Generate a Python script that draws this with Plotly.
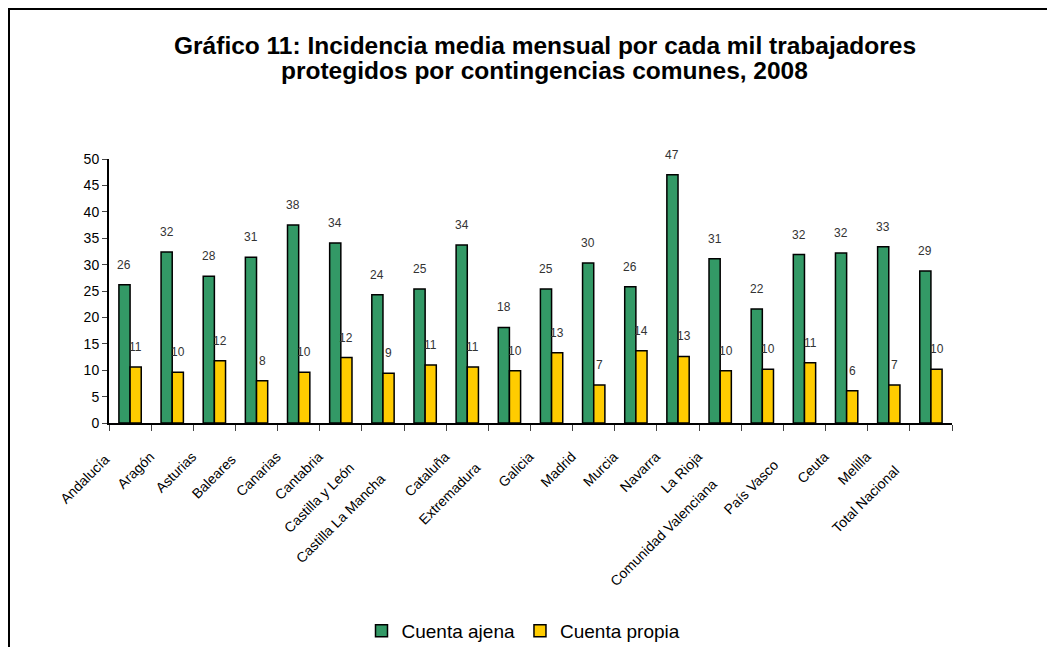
import plotly.graph_objects as go

categories = ["Andalucía", "Aragón", "Asturias", "Baleares", "Canarias", "Cantabria",
              "Castilla y León", "Castilla La Mancha", "Cataluña", "Extremadura", "Galicia",
              "Madrid", "Murcia", "Navarra", "La Rioja", "Comunidad Valenciana", "País Vasco",
              "Ceuta", "Melilla", "Total Nacional"]
cuenta_ajena = [26.2, 32.4, 27.8, 31.4, 37.5, 34.1, 24.3, 25.4, 33.7, 18.1, 25.4,
                30.3, 25.8, 47.0, 31.1, 21.6, 31.9, 32.2, 33.4, 28.8]
cuenta_propia = [10.6, 9.6, 11.8, 8.0, 9.6, 12.4, 9.4, 11.0, 10.6, 9.9, 13.3,
                 7.2, 13.7, 12.6, 9.9, 10.2, 11.4, 6.1, 7.2, 10.2]
series_names = ["Cuenta ajena", "Cuenta propia"]
series_colors = ["#339966", "#FFCC00"]
title_lines = ["Gráfico 11: Incidencia media mensual por cada mil trabajadores",
               "protegidos por contingencias comunes, 2008"]
y_ticks = list(range(0, 51, 5))

# layout-only: extra drop (in spaces) of a few staggered axis labels
label_drop = {"Andalucía": 1, "Baleares": 1, "Castilla y León": 4, "Castilla La Mancha": 8,
              "Extremadura": 4, "Comunidad Valenciana": 10, "País Vasco": 3, "Total Nacional": 5}

W, H = 1055, 647
ML, MR, MT, MB = 101, 111, 151, 232
BARGAP = 0.47
pw = W - ML - MR
ph = H - MT - MB

fig = go.Figure()
for name, vals, col in zip(series_names, [cuenta_ajena, cuenta_propia], series_colors):
    fig.add_trace(go.Bar(
        name=name, x=categories, y=vals,
        marker=dict(color=col, line=dict(color="black", width=1.5)),
    ))

# data labels
cat_w = pw / len(categories)
bar_w = cat_w * (1 - BARGAP) / 2
for i, vals in enumerate([cuenta_ajena, cuenta_propia]):
    shift = (-0.5 + i) * bar_w
    for c, v in zip(categories, vals):
        fig.add_annotation(x=c, y=v, text=f"{v:.0f}", showarrow=False,
                           xshift=shift, yshift=20,
                           font=dict(family="Liberation Sans, Arial", size=12, color="#333333"))

# title (two lines, tight spacing)
for line, fy in zip(title_lines, [37.5, 62.5]):
    fig.add_annotation(xref="paper", yref="paper", x=(536.5 - ML) / pw, y=(H - MB - fy) / ph,
                       text=f"<b>{line}</b>", showarrow=False, xanchor="center", yanchor="middle",
                       font=dict(family="Liberation Sans, Arial", size=24.5, color="black"))

# outer chart border
fig.add_shape(type="rect", xref="paper", yref="paper",
              x0=(0.5 - ML) / pw, x1=(W + 10 - ML) / pw,
              y0=(H - MB - H - 10) / ph, y1=(H - MB - 0.5) / ph,
              line=dict(color="black", width=3), fillcolor="rgba(0,0,0,0)")

ticktext = [c + "\u00a0" * label_drop.get(c, 0) for c in categories]

fig.update_layout(
    width=W, height=H,
    margin=dict(l=ML, r=MR, t=MT, b=MB),
    paper_bgcolor="white", plot_bgcolor="white",
    barmode="group", bargap=BARGAP, bargroupgap=0,
    font=dict(family="Liberation Sans, Arial", color="black"),
    legend=dict(orientation="h", xref="container", yref="container", x=0.5 - 12 / W, xanchor="center",
                y=(H - 623) / H, yanchor="middle",
                font=dict(family="Liberation Sans, Arial", size=19, color="black"),
                itemwidth=30, tracegroupgap=0),
    showlegend=True,
)
fig.update_yaxes(range=[0, 50], tickvals=y_ticks, ticks="outside", ticklen=5,
                 showline=True, linecolor="black", linewidth=2, showgrid=False,
                 zeroline=False, tickfont=dict(size=14, color="black"))
fig.update_xaxes(tickangle=-45, ticks="outside", ticklen=6, tickson="boundaries",
                 tickvals=categories, ticktext=ticktext,
                 showline=True, linecolor="black", linewidth=2, showgrid=False,
                 tickfont=dict(size=14, color="black"), ticklabelstandoff=18,
                 ticklabelshift=-22)

fig.write_html("out.html")
